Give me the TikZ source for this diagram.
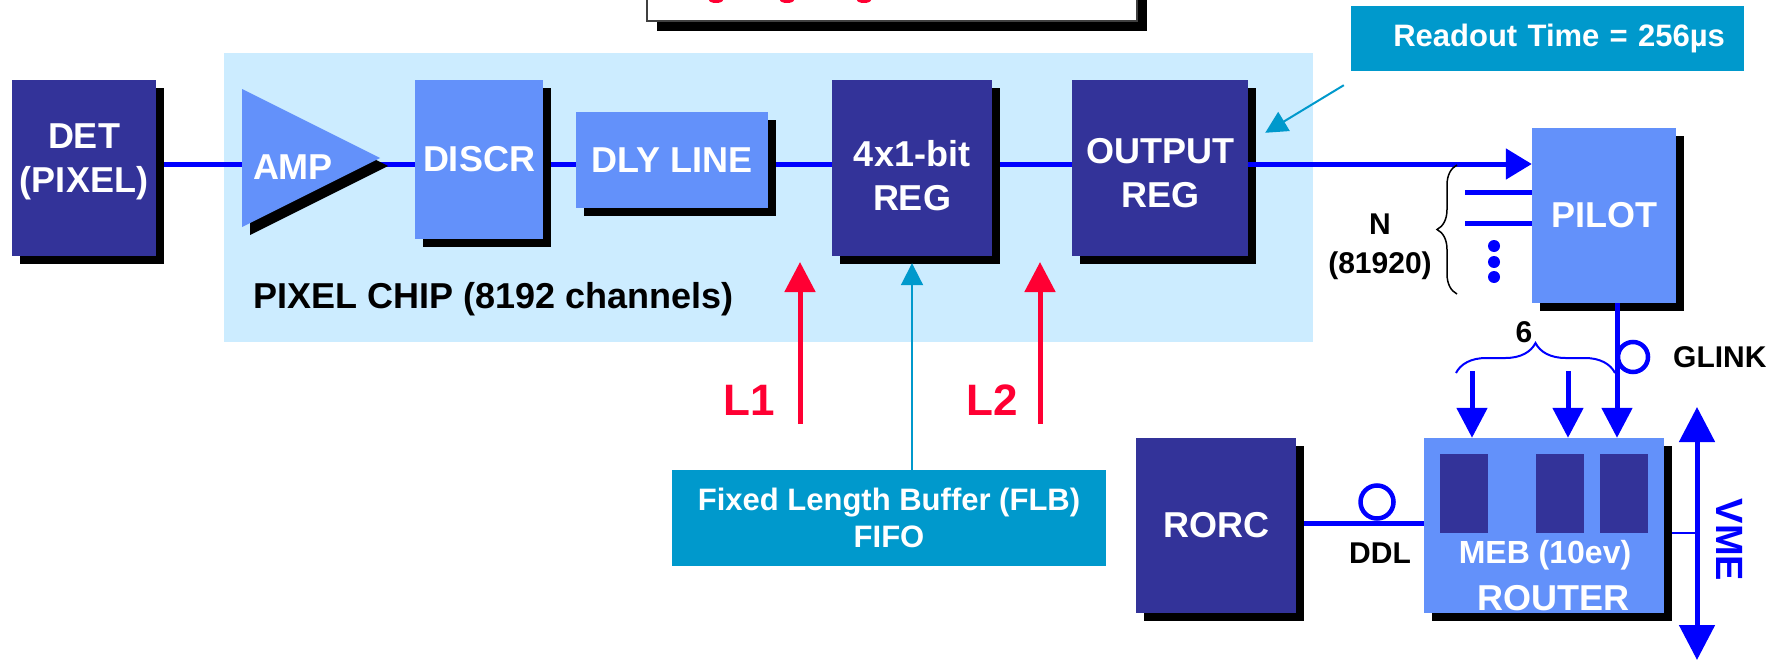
\documentclass[tikz,border=0pt]{standalone}
\usepackage{fontspec}
\setmainfont{Liberation Sans}
\usetikzlibrary{arrows.meta,shadows,decorations.pathreplacing,calc}
\definecolor{dkblue}{RGB}{51,51,153}
\definecolor{mdblue}{RGB}{99,145,250}
\definecolor{chipbg}{RGB}{204,236,255}
\definecolor{tcyan}{RGB}{0,153,204}
\definecolor{tred}{RGB}{255,0,51}
\definecolor{busblue}{RGB}{0,0,255}
\pgfdeclarelayer{bg}
\pgfdeclarelayer{wires}
\pgfsetlayers{bg,wires,main}
\tikzset{
  sh/.style={drop shadow={shadow xshift=8pt,shadow yshift=-8pt,fill=black,opacity=1}},
  blk/.style={sh, draw=none, inner sep=0pt, text=white, align=center,
    font=\bfseries\fontsize{36}{44}\selectfont},
  dk/.style={blk, fill=dkblue},
  md/.style={blk, fill=mdblue},
  cbox/.style={fill=tcyan, draw=none, inner sep=0pt, text=white, align=center},
  bus/.style={draw=busblue, line width=5pt},
  busarrow/.style={bus, -{Triangle[length=30pt,width=30pt]}},
  redarrow/.style={draw=tred, line width=5pt, -{Triangle[length=30pt,width=30pt]}},
  cyanarrow/.style={draw=tcyan, line width=2pt, -{Triangle[length=22pt,width=22pt]}},
  lbl/.style={inner sep=0pt, align=center, font=\bfseries\fontsize{30}{39}\selectfont},
  ring/.style={circle, draw=busblue, line width=4.5pt, inner sep=0pt},
  dot/.style={circle, fill=busblue, inner sep=0pt, minimum size=12pt},
}
\begin{document}
\begin{tikzpicture}[x=1pt,y=-1pt]
\useasboundingbox (0,0) rectangle (1787,661);

% top (cut-off) box
\node[draw=black!75, line width=1.5pt, fill=white, inner sep=0pt,
  drop shadow={shadow xshift=10pt,shadow yshift=-10pt,fill=black,opacity=1},
  minimum width=490pt, minimum height=62pt] (topbox) at (892,-10) {};
\fill[tred] (716,0) ellipse (7 and 3);
\fill[tred] (787,0) ellipse (7 and 3);
\fill[tred] (864,0) ellipse (7 and 3);

% pixel chip background
\begin{pgfonlayer}{bg}
\node[fill=chipbg, draw=none, inner sep=0pt, minimum width=1089pt, minimum height=289pt] (chip) at (768.5,197.5) {};
\end{pgfonlayer}
\node[lbl, anchor=base west, font=\bfseries\fontsize{36}{44}\selectfont] (chiplabel) at (253,308) {PIXEL CHIP (8192 channels)};

% blocks
\node[dk, minimum width=144pt, minimum height=176pt] (det) at (84,168) {DET\\(PIXEL)\rule[-19pt]{0pt}{19pt}};
\fill[black] (250,97) -- (250,235) -- (388,166) -- cycle;
\fill[mdblue] (242,89) -- (242,227) -- (380,158) -- cycle;
\node[inner sep=0pt, text=white, font=\bfseries\fontsize{36}{44}\selectfont] (amp) at (293,167) {AMP};
\coordinate (ampin) at (242,164);
\coordinate (amptip) at (376,164);
\node[md, minimum width=128pt, minimum height=159pt] (discr) at (479,159.5) {DISCR};
\node[md, minimum width=192pt, minimum height=96pt] (dly) at (672,160) {DLY LINE};
\node[dk, minimum width=160pt, minimum height=176pt] (reg4) at (912,168) {\rule{0pt}{42pt}4x1-bit\\REG};
\node[dk, minimum width=176pt, minimum height=176pt] (outreg) at (1160,168) {\rule{0pt}{36pt}OUTPUT\\REG};
\node[md, minimum width=144pt, minimum height=175pt] (pilot) at (1604,215.5) {PILOT};
\node[dk, minimum width=160pt, minimum height=175pt] (rorc) at (1216,525.5) {RORC};
\node[md, minimum width=240pt, minimum height=175pt] (router) at (1544,525.5) {};
\node[fill=dkblue, inner sep=0pt, minimum width=48pt, minimum height=79pt] (meb1) at (1464,493.5) {};
\node[fill=dkblue, inner sep=0pt, minimum width=48pt, minimum height=79pt] (meb2) at (1560,493.5) {};
\node[fill=dkblue, inner sep=0pt, minimum width=48pt, minimum height=79pt] (meb3) at (1624,493.5) {};
\node[inner sep=0pt, text=white, font=\bfseries\fontsize{32}{40}\selectfont] (meb) at (1545,555) {MEB (10ev)};
\node[inner sep=0pt, text=white, font=\bfseries\fontsize{36}{44}\selectfont] (routerlbl) at (1553,598) {ROUTER};

% callout boxes
\node[cbox, minimum height=65pt, text width=355pt, inner xsep=19pt, align=right,
  font=\bfseries\fontsize{31}{38}\selectfont] (readout) at (1547.5,38.5) {Readout Time = 256µs};
\node[cbox, minimum width=434pt, minimum height=96pt,
  font=\bfseries\fontsize{31}{37}\selectfont] (flb) at (889,518) {Fixed Length Buffer (FLB)\\FIFO};

% labels
\node[lbl, text=tred, font=\bfseries\fontsize{44}{50}\selectfont] (l1) at (749,400) {L1};
\node[lbl, text=tred, font=\bfseries\fontsize{44}{50}\selectfont] (l2) at (992,400) {L2};
\node[lbl] (nlabel) at (1380,247) {N\\(81920)};
\node[lbl] (six) at (1524,332) {6};
\node[lbl, anchor=west] (glink) at (1673,357) {GLINK};
\node[lbl] (ddl) at (1380,553) {DDL};
\node[lbl, text=busblue, rotate=-90, font=\bfseries\fontsize{38}{44}\selectfont] (vme) at (1730,540) {VME};

% rings and dots
\node[ring, minimum size=30pt] (glinkring) at (1633,357) {};
\node[ring, minimum size=33pt] (ddlring) at (1377,502) {};
\node[dot] (dot1) at (1494,246) {};
\node[dot] (dot2) at (1494,262) {};
\node[dot] (dot3) at (1494,277) {};

% coordinates
\coordinate (mainy) at (0,164);
\coordinate (in1) at (1465,192);
\coordinate (in2) at (1465,223);
\coordinate (glinkx) at (1617,0);
\coordinate (a1) at (1472,371);
\coordinate (a2) at (1568,371);
\coordinate (ddly) at (0,523);
\coordinate (vmetop) at (1697,407);
\coordinate (vmebot) at (1697,660);
\coordinate (vmey) at (0,533);
\coordinate (l1b) at (800,424);
\coordinate (l1t) at (800,262);
\coordinate (l2b) at (1040,424);
\coordinate (l2t) at (1040,262);

\begin{pgfonlayer}{wires}
\draw[bus] (det.east |- mainy) -- (ampin);
\draw[bus] (amptip) -- (discr.west |- mainy);
\draw[bus] (discr.east |- mainy) -- (dly.west |- mainy);
\draw[bus] (dly.east |- mainy) -- (reg4.west |- mainy);
\draw[bus] (reg4.east |- mainy) -- (outreg.west |- mainy);
\draw[bus] (rorc.east |- ddly) -- (router.west |- ddly);
\draw[draw=busblue, line width=2pt] (router.east |- vmey) -- (vmetop |- vmey);
\end{pgfonlayer}

\draw[bus, -{Triangle[length=26pt,width=30pt]}] (outreg.east |- mainy) -- (pilot.west |- mainy);
\draw[bus] (in1) -- (pilot.west |- in1);
\draw[bus] (in2) -- (pilot.west |- in2);
\draw[busarrow] (pilot.south -| glinkx) -- (router.north -| glinkx);
\draw[busarrow] (a1) -- (router.north -| a1);
\draw[busarrow] (a2) -- (router.north -| a2);
\draw[bus, {Triangle[length=35pt,width=35pt]}-{Triangle[length=35pt,width=35pt]}] (vmetop) -- (vmebot);

\draw[redarrow] (l1b) -- (l1t);
\draw[redarrow] (l2b) -- (l2t);
\draw[cyanarrow] (flb.north -| reg4.south) -- ([yshift=-7pt]reg4.south);
\draw[cyanarrow] ([xshift=-7pt,yshift=-14pt]readout.south west) -- ([xshift=17pt,yshift=-53pt]outreg.north east);

% braces
\draw[decorate, decoration={brace, amplitude=20pt}, line width=1.5pt] (1457,294) -- (1457,165);
\draw[decorate, decoration={brace, amplitude=30pt}, draw=busblue, line width=2pt] (1456,373) -- (1615,373);
\end{tikzpicture}
\end{document}
